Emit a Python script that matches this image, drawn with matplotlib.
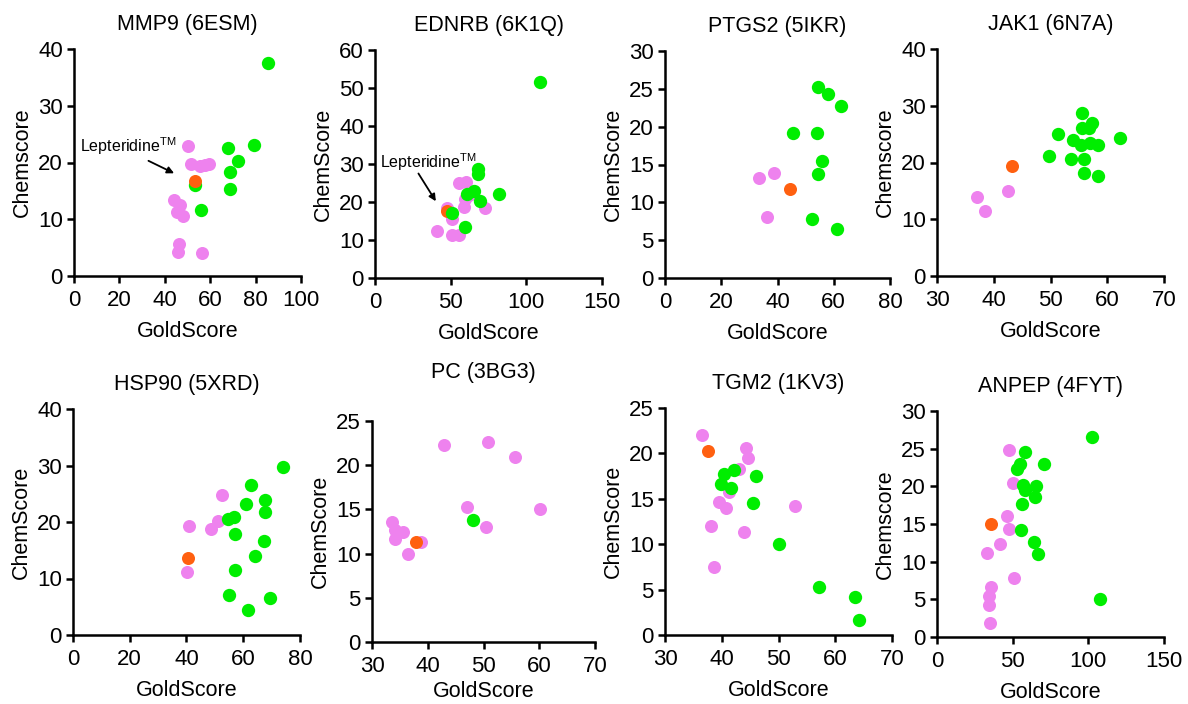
import matplotlib
matplotlib.use("Agg")
import matplotlib.pyplot as plt

plt.rcParams["font.family"] = ["Liberation Sans", "DejaVu Sans"]
plt.rcParams["mathtext.fontset"] = "custom"
plt.rcParams["mathtext.rm"] = "Liberation Sans"

PINK = "#EE82EE"
GREEN = "#00EE00"
ORANGE = "#FF6010"

# ===== DATA (GoldScore, ChemScore) =====
titles = ["MMP9 (6ESM)", "EDNRB (6K1Q)", "PTGS2 (5IKR)", "JAK1 (6N7A)",
          "HSP90 (5XRD)", "PC (3BG3)", "TGM2 (1KV3)", "ANPEP (4FYT)"]
ylabels = ["Chemscore", "ChemScore", "ChemScore", "Chemscore",
           "ChemScore", "ChemScore", "ChemScore", "Chemscore"]
xticks = [[0, 20, 40, 60, 80, 100], [0, 50, 100, 150], [0, 20, 40, 60, 80], [30, 40, 50, 60, 70],
          [0, 20, 40, 60, 80], [30, 40, 50, 60, 70], [30, 40, 50, 60, 70], [0, 50, 100, 150]]
yticks = [[0, 10, 20, 30, 40], [0, 10, 20, 30, 40, 50, 60], [0, 5, 10, 15, 20, 25, 30], [0, 10, 20, 30, 40],
          [0, 10, 20, 30, 40], [0, 5, 10, 15, 20, 25], [0, 5, 10, 15, 20, 25], [0, 5, 10, 15, 20, 25, 30]]

# MMP9
mmp9_pink_x = [50.1, 51.5, 55.5, 57.5, 59.5, 44.1, 46.8, 45.3, 47.9, 46.2, 45.7, 56.3]
mmp9_pink_y = [22.9, 19.8, 19.3, 19.6, 19.7, 13.4, 12.5, 11.3, 10.5, 5.6, 4.2, 4.0]
mmp9_green_x = [85.4, 79.1, 67.8, 72.2, 68.8, 68.8, 53.5, 56.0]
mmp9_green_y = [37.5, 23.1, 22.5, 20.2, 18.3, 15.4, 16.0, 11.6]
mmp9_lep = (53.5, 16.8)

# EDNRB
ednrb_pink_x = [55.8, 60.3, 61.8, 59.6, 58.5, 72.8, 47.5, 51.2, 40.8, 50.8, 55.6]
ednrb_pink_y = [25.0, 25.3, 21.8, 20.9, 18.7, 18.3, 18.3, 15.4, 12.4, 11.2, 11.4]
ednrb_green_x = [108.8, 68.0, 68.2, 65.6, 60.7, 82.1, 69.1, 50.8, 59.8]
ednrb_green_y = [51.6, 28.8, 27.5, 22.9, 22.0, 22.0, 20.2, 17.1, 13.4]
ednrb_lep = (47.5, 17.7)

# PTGS2
ptgs2_pink_x = [33.4, 38.9, 36.3]
ptgs2_pink_y = [13.2, 13.9, 8.1]
ptgs2_green_x = [54.3, 58.1, 62.6, 45.4, 53.9, 55.7, 54.5, 52.4, 61.1]
ptgs2_green_y = [25.2, 24.3, 22.7, 19.1, 19.1, 15.5, 13.7, 7.8, 6.5]
ptgs2_lep = (44.5, 11.7)

# JAK1
jak1_pink_x = [37.1, 38.4, 42.5]
jak1_pink_y = [14.0, 11.5, 15.0]
jak1_green_x = [55.5, 55.6, 56.8, 57.4, 51.3, 62.2, 54.0, 55.4, 57.0, 58.4, 49.8, 53.7, 55.9, 55.9, 58.3]
jak1_green_y = [28.8, 26.1, 26.0, 26.9, 25.1, 24.4, 24.0, 23.1, 23.4, 23.0, 21.2, 20.7, 20.7, 18.2, 17.7]
jak1_lep = (43.3, 19.3)

# HSP90
hsp90_pink_x = [52.6, 51.2, 48.8, 40.8, 40.2]
hsp90_pink_y = [24.7, 20.2, 18.7, 19.3, 11.1]
hsp90_green_x = [74.1, 62.6, 67.6, 60.9, 67.6, 54.5, 56.8, 57.2, 67.2, 64.1, 57.1, 55.1, 69.4, 61.5]
hsp90_green_y = [29.8, 26.5, 23.9, 23.1, 21.7, 20.5, 20.9, 17.8, 16.6, 13.9, 11.5, 7.0, 6.5, 4.4]
hsp90_lep = (40.4, 13.6)

# PC
pc_pink_x = [42.9, 50.8, 55.7, 60.1, 47.0, 50.4, 33.6, 34.1, 35.6, 34.1, 38.8, 36.5]
pc_pink_y = [22.3, 22.6, 20.9, 15.1, 15.3, 13.0, 13.6, 12.7, 12.4, 11.7, 11.3, 9.9]
pc_green_x = [48.1]
pc_green_y = [13.8]
pc_lep = (37.9, 11.3)

# TGM2
tgm2_pink_x = [36.5, 44.3, 44.7, 43.1, 41.3, 39.5, 40.8, 52.9, 38.1, 44.0, 38.7]
tgm2_pink_y = [22.0, 20.6, 19.5, 18.3, 15.7, 14.6, 14.0, 14.2, 12.0, 11.3, 7.5]
tgm2_green_x = [42.2, 40.4, 46.0, 39.9, 41.6, 45.5, 50.1, 57.1, 63.4, 64.1]
tgm2_green_y = [18.2, 17.7, 17.5, 16.6, 16.2, 14.5, 10.0, 5.3, 4.2, 1.7]
tgm2_lep = (37.5, 20.3)

# ANPEP
anpep_pink_x = [47.7, 49.9, 46.2, 47.3, 41.8, 33.2, 50.8, 35.8, 34.1, 34.1, 34.7]
anpep_pink_y = [24.8, 20.4, 16.1, 14.3, 12.3, 11.2, 7.8, 6.7, 5.4, 4.2, 1.9]
anpep_green_x = [102.7, 58.3, 55.0, 52.8, 71.0, 56.7, 65.3, 58.3, 64.8, 56.1, 55.6, 64.2, 66.6, 107.5]
anpep_green_y = [26.5, 24.5, 23.0, 22.3, 22.9, 20.2, 20.0, 19.5, 18.6, 17.7, 14.2, 12.6, 11.0, 5.1]
anpep_lep = (35.8, 15.0)

pink_x = [mmp9_pink_x, ednrb_pink_x, ptgs2_pink_x, jak1_pink_x, hsp90_pink_x, pc_pink_x, tgm2_pink_x, anpep_pink_x]
pink_y = [mmp9_pink_y, ednrb_pink_y, ptgs2_pink_y, jak1_pink_y, hsp90_pink_y, pc_pink_y, tgm2_pink_y, anpep_pink_y]
green_x = [mmp9_green_x, ednrb_green_x, ptgs2_green_x, jak1_green_x, hsp90_green_x, pc_green_x, tgm2_green_x, anpep_green_x]
green_y = [mmp9_green_y, ednrb_green_y, ptgs2_green_y, jak1_green_y, hsp90_green_y, pc_green_y, tgm2_green_y, anpep_green_y]
lep = [mmp9_lep, ednrb_lep, ptgs2_lep, jak1_lep, hsp90_lep, pc_lep, tgm2_lep, anpep_lep]

# ===== LAYOUT (pixel boxes: left, right, top, bottom) =====
W, H = 1188, 704
boxes = [(74, 301, 49, 276), (375, 602, 50, 278), (665, 890, 51, 278), (937, 1164, 49, 276),
         (73, 300, 409, 635), (372, 595, 421, 642), (665, 892, 408, 635), (937, 1164, 411, 637)]
title_pads = [14, 14, 14, 14, 14, 31, 14, 14]
xlabel_pads = [7, 7, 7, 7, 7, 3, 7, 7]

fig = plt.figure(figsize=(W / 100, H / 100), dpi=100)

for i in range(8):
    l, r, t, b = boxes[i]
    ax = fig.add_axes([l / W, 1 - b / H, (r - l) / W, (b - t) / H])
    ax.scatter(pink_x[i], pink_y[i], s=88, color=PINK, linewidths=0, zorder=3, clip_on=False)
    orange_z = 3.5 if i == 1 else 5
    ax.scatter(green_x[i], green_y[i], s=92, color=GREEN, linewidths=0, zorder=4, clip_on=False)
    ax.scatter([lep[i][0]], [lep[i][1]], s=88, color=ORANGE, linewidths=0, zorder=orange_z, clip_on=False)

    ax.set_xlim(xticks[i][0], xticks[i][-1])
    ax.set_ylim(yticks[i][0], yticks[i][-1])
    ax.set_xticks(xticks[i])
    ax.set_yticks(yticks[i])
    ax.spines["top"].set_visible(False)
    ax.spines["right"].set_visible(False)
    for s in ["left", "bottom"]:
        ax.spines[s].set_linewidth(1.8)
    ax.tick_params(direction="out", length=5, width=1.8, labelsize=16, pad=3)
    ax.tick_params(axis="x", pad=5)
    ax.set_title(titles[i], fontsize=15.5, pad=title_pads[i])
    ax.set_xlabel("GoldScore", fontsize=15.5, labelpad=xlabel_pads[i])
    ax.set_ylabel(ylabels[i], fontsize=15.5, labelpad=4)

    if i in (0, 1):
        ax.text(2.6 if i == 0 else 3.3, 22.9 if i == 0 else 30.6, r"Lepteridine$^{\mathrm{TM}}$",
                fontsize=11.5, va="center", ha="left")
        tail = (32.8, 20.3) if i == 0 else (28.7, 27.5)
        head = (44.1, 18.1) if i == 0 else (40.2, 20.2)
        ax.annotate("", xy=head, xytext=tail,
                    arrowprops=dict(arrowstyle="-|>", color="black", lw=1.3,
                                    mutation_scale=10, shrinkA=0, shrinkB=0))

fig.savefig("out.png", dpi=100)
